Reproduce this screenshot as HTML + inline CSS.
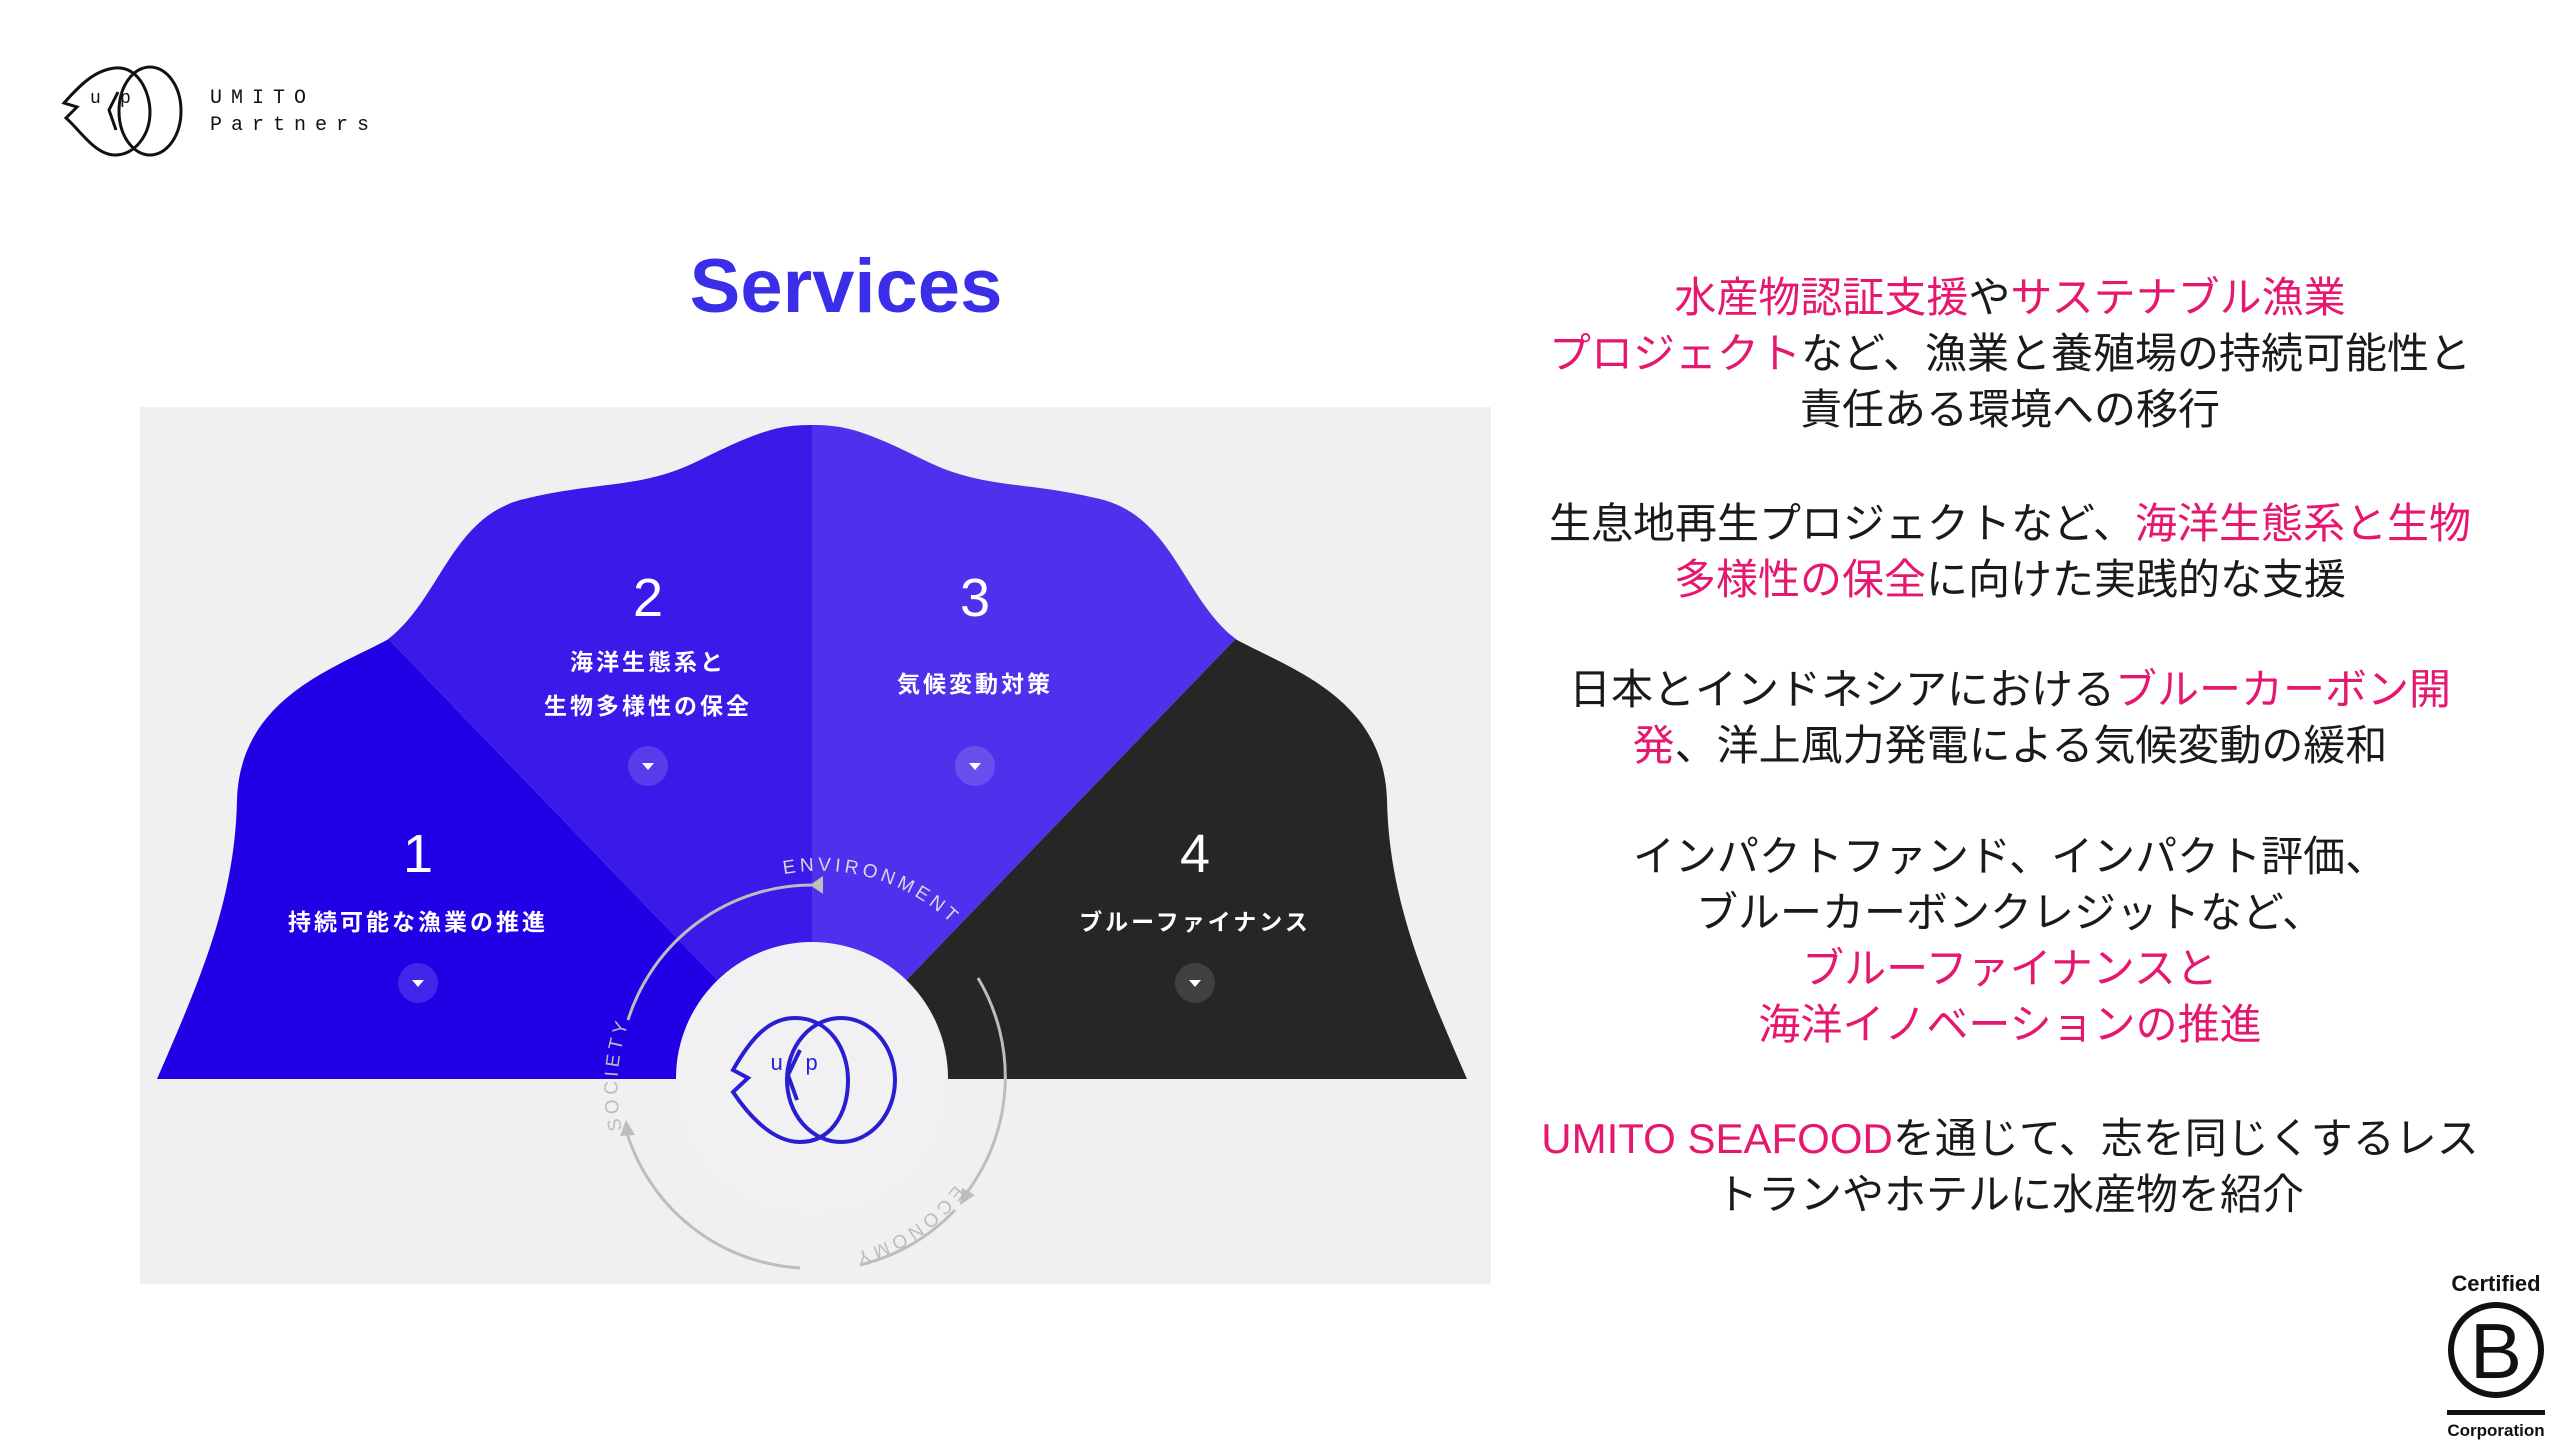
<!DOCTYPE html>
<html><head><meta charset="utf-8"><style>
html,body{margin:0;padding:0;background:#fff;}
body{width:2560px;height:1440px;position:relative;overflow:hidden;font-family:"Liberation Sans","Noto Sans CJK JP",sans-serif;}
.rt{position:absolute;left:1500px;width:1020px;text-align:center;font-size:42px;line-height:56px;color:#1a1a1a;font-family:"Liberation Sans","Noto Sans CJK JP",sans-serif;}
.p{color:#e5176e;}
</style></head><body>
<svg width="2560" height="1440" style="position:absolute;left:0;top:0">
<defs>
<path id="sh" d="M157,1079 C200,980 235,900 237,800 C240,700 330,670 387,640 C440,600 450,520 520,500 C600,480 640,490 700,460 C760,430 780,425 812,425 C844,425 864,430 924,460 C984,490 1024,480 1104,500 C1174,520 1184,600 1237,640 C1294,670 1384,700 1387,800 C1389,900 1424,980 1467,1079 Z"/>
<clipPath id="c1"><polygon points="812,1078 100,340 0,340 0,1100 812,1100"/></clipPath>
<clipPath id="c2"><polygon points="812,1078 100,340 100,0 812,0"/></clipPath>
<clipPath id="c3"><polygon points="812,1078 812,0 1524,0 1524,340"/></clipPath>
<clipPath id="c4"><polygon points="812,1078 1524,340 1624,340 1624,1100"/></clipPath>
<path id="arcTop" d="M640,1000 A190,190 0 0 1 1000,1000"/>
<path id="arcL" d="M622,1130 A195,195 0 0 1 650,980"/>
<path id="arcB" d="M975,1150 A178,178 0 0 1 760,1250"/>
</defs>
<g fill="none" stroke="#111" stroke-width="3">
<path d="M115,68 C140,66 150,95 150,112 C150,135 135,155 115,155 C95,155 80,130 66,118 L77,107 L64,103 C80,85 95,70 115,68 Z"/>
<ellipse cx="150" cy="111" rx="31" ry="44"/>
<path d="M118,92 L109,110 L116,130"/>
</g>
<text x="90" y="103" font-family="Liberation Mono" font-size="18" fill="#111">u</text>
<text x="120" y="103" font-family="Liberation Mono" font-size="18" fill="#111">p</text>
<text x="210" y="103" font-family="Liberation Mono" font-size="20" fill="#111" letter-spacing="9">UMITO</text>
<text x="210" y="130" font-family="Liberation Mono" font-size="20" fill="#111" letter-spacing="9">Partners</text>
<text x="846" y="312" text-anchor="middle" font-size="76" font-weight="bold" fill="#3a2ee8">Services</text>
<rect x="140" y="407" width="1351" height="877" fill="#f0f0f0"/>
<use href="#sh" fill="#2200e6" clip-path="url(#c1)"/>
<use href="#sh" fill="#3a1ae9" clip-path="url(#c2)"/>
<use href="#sh" fill="#5030ec" clip-path="url(#c3)"/>
<use href="#sh" fill="#262626" clip-path="url(#c4)"/>
<circle cx="812" cy="1078" r="136" fill="#f1f1f4"/>
<g fill="none" stroke="#bdbdbd" stroke-width="3">
<path d="M628,1020 A193,193 0 0 1 815,885"/>
<path d="M978,978 A193,193 0 0 1 965,1195"/>
<path d="M955,1210 A193,193 0 0 1 860,1265"/>
<path d="M800,1268 A193,193 0 0 1 626,1130"/>
</g>
<polygon points="818,876 818,894 805,885" fill="#bdbdbd" transform="translate(5,0)"/>
<polygon points="962,1188 975,1195 960,1205" fill="#bdbdbd"/>
<polygon points="626,1120 635,1135 620,1136" fill="#bdbdbd"/>
<text font-size="19" fill="#d8d8e0" letter-spacing="4"><textPath href="#arcTop" startOffset="200">ENVIRONMENT</textPath></text>
<text font-size="19" fill="#bdbdbd" letter-spacing="4"><textPath href="#arcL">SOCIETY</textPath></text>
<text font-size="19" fill="#bdbdbd" letter-spacing="4"><textPath href="#arcB" startOffset="40">ECONOMY</textPath></text>
<g fill="none" stroke="#2a1fd0" stroke-width="4">
<path d="M795,1018 C830,1018 848,1050 848,1080 C848,1115 830,1142 800,1142 C770,1142 745,1110 733,1092 L748,1078 L733,1070 C750,1040 768,1018 795,1018 Z"/>
<ellipse cx="841" cy="1080" rx="54" ry="62"/>
<path d="M800,1050 L788,1075 L797,1100"/>
</g>
<text x="770" y="1070" font-size="22" fill="#2a1fd0" font-family="Liberation Mono">u</text>
<text x="805" y="1070" font-size="22" fill="#2a1fd0" font-family="Liberation Mono">p</text>
<g fill="#fff" text-anchor="middle" font-family="Liberation Sans,Noto Sans CJK JP,sans-serif">
<text x="648" y="616" font-size="54">2</text>
<text x="648" y="670" font-size="23" font-weight="bold" letter-spacing="3">海洋生態系と</text>
<text x="648" y="714" font-size="23" font-weight="bold" letter-spacing="3">生物多様性の保全</text>
<text x="975" y="616" font-size="54">3</text>
<text x="975" y="692" font-size="23" font-weight="bold" letter-spacing="3">気候変動対策</text>
<text x="418" y="872" font-size="54">1</text>
<text x="418" y="930" font-size="23" font-weight="bold" letter-spacing="3">持続可能な漁業の推進</text>
<text x="1195" y="872" font-size="54">4</text>
<text x="1195" y="930" font-size="23" font-weight="bold" letter-spacing="3">ブルーファイナンス</text>
</g>
<g>
<circle cx="648" cy="766" r="20" fill="#fff" fill-opacity="0.15"/><polygon points="642,763 654,763 648,770" fill="#fff"/>
<circle cx="975" cy="766" r="20" fill="#fff" fill-opacity="0.15"/><polygon points="969,763 981,763 975,770" fill="#fff"/>
<circle cx="418" cy="983" r="20" fill="#fff" fill-opacity="0.15"/><polygon points="412,980 424,980 418,987" fill="#fff"/>
<circle cx="1195" cy="983" r="20" fill="#fff" fill-opacity="0.12"/><polygon points="1189,980 1201,980 1195,987" fill="#fff"/>
</g>
<text x="2496" y="1291" text-anchor="middle" font-size="22" font-weight="bold" fill="#111">Certified</text>
<circle cx="2496" cy="1350" r="45" fill="none" stroke="#111" stroke-width="6"/>
<text x="2496" y="1378" text-anchor="middle" font-size="78" fill="#111">B</text>
<rect x="2447" y="1410" width="98" height="5" fill="#111"/>
<text x="2496" y="1436" text-anchor="middle" font-size="17" font-weight="bold" fill="#111">Corporation</text>
</svg>
<div class="rt" style="top:270px"><span class="p">水産物認証支援</span>や<span class="p">サステナブル漁業</span><br><span class="p">プロジェクト</span>など、漁業と養殖場の持続可能性と<br>責任ある環境への移行</div>
<div class="rt" style="top:496px">生息地再生プロジェクトなど、<span class="p">海洋生態系と生物</span><br><span class="p">多様性の保全</span>に向けた実践的な支援</div>
<div class="rt" style="top:662px">日本とインドネシアにおける<span class="p">ブルーカーボン開</span><br><span class="p">発</span>、洋上風力発電による気候変動の緩和</div>
<div class="rt" style="top:829px">インパクトファンド、インパクト評価、<br>ブルーカーボンクレジットなど、<br><span class="p">ブルーファイナンスと</span><br><span class="p">海洋イノベーションの推進</span></div>
<div class="rt" style="top:1111px"><span class="p">UMITO SEAFOOD</span>を通じて、志を同じくするレス<br>トランやホテルに水産物を紹介</div>
</body></html>
